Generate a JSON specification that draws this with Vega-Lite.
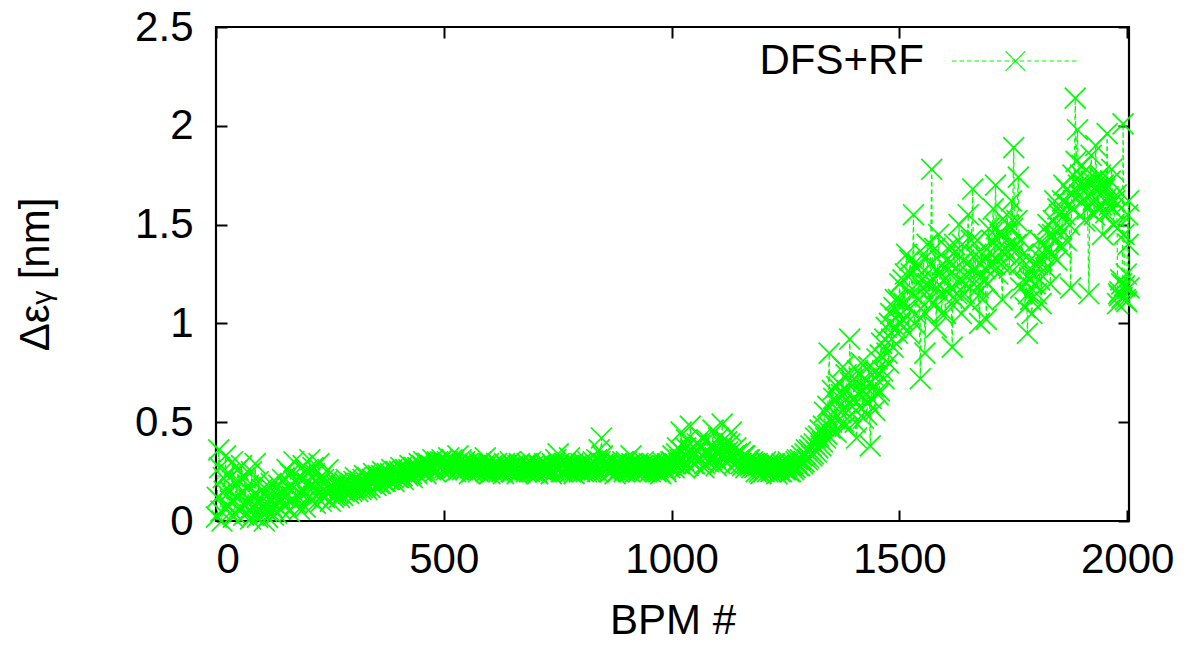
{
  "$schema": "https://vega.github.io/schema/vega-lite/v6.json",
  "autosize": {"type": "none"},
  "padding": {"left": 216, "top": 27, "right": 66, "bottom": 128},
  "width": 913,
  "height": 494,
  "background": "white",
  "config": {
    "view": {"stroke": "black", "strokeWidth": 2.2},
    "axis": {"domain": false, "grid": false, "ticks": true, "zindex": 2, "tickColor": "#000000", "tickOpacity": 1, "tickWidth": 2, "tickSize": 11, "offset": -11, "labelFont": "Liberation Sans", "labelFontSize": 42, "labelColor": "black", "titleFont": "Liberation Sans", "titleFontSize": 42, "titleFontWeight": "normal", "titleColor": "black"}
  },
  "data": {"values": [
    {"b":1,"e":0.02},{"b":6,"e":0.36},{"b":11,"e":0.05},{"b":16,"e":0.22},{"b":21,"e":0.33},{"b":26,"e":0.08},{"b":31,"e":0.15},{"b":36,"e":0.30},{"b":41,"e":0.04},{"b":46,"e":0.12},
    {"b":51,"e":0.20},{"b":56,"e":0.28},{"b":61,"e":0.03},{"b":66,"e":0.10},{"b":71,"e":0.18},{"b":76,"e":0.01},{"b":81,"e":0.07},{"b":86,"e":0.29},{"b":91,"e":0.02},{"b":96,"e":0.09},
    {"b":101,"e":0.16},{"b":106,"e":0.00},{"b":111,"e":0.05},{"b":116,"e":0.11},{"b":121,"e":0.19},{"b":126,"e":0.03},{"b":131,"e":0.08},{"b":136,"e":0.13},{"b":141,"e":0.06},{"b":146,"e":0.21},
    {"b":151,"e":0.12},{"b":156,"e":0.26},{"b":161,"e":0.05},{"b":166,"e":0.18},{"b":171,"e":0.30},{"b":176,"e":0.09},{"b":181,"e":0.22},{"b":186,"e":0.14},{"b":191,"e":0.28},{"b":196,"e":0.07},
    {"b":201,"e":0.19},{"b":206,"e":0.31},{"b":211,"e":0.11},{"b":216,"e":0.24},{"b":221,"e":0.16},{"b":226,"e":0.29},{"b":231,"e":0.10},{"b":236,"e":0.21},{"b":241,"e":0.15},{"b":246,"e":0.26},
    {"b":251,"e":0.10},{"b":256,"e":0.17},{"b":261,"e":0.13},{"b":266,"e":0.19},{"b":271,"e":0.12},{"b":276,"e":0.18},{"b":281,"e":0.15},{"b":286,"e":0.21},{"b":291,"e":0.14},{"b":296,"e":0.19},
    {"b":301,"e":0.16},{"b":306,"e":0.22},{"b":311,"e":0.15},{"b":316,"e":0.20},{"b":321,"e":0.17},{"b":326,"e":0.23},{"b":331,"e":0.16},{"b":336,"e":0.21},{"b":341,"e":0.19},{"b":346,"e":0.24},
    {"b":351,"e":0.18},{"b":356,"e":0.23},{"b":361,"e":0.19},{"b":366,"e":0.25},{"b":371,"e":0.20},{"b":376,"e":0.24},{"b":381,"e":0.21},{"b":386,"e":0.26},{"b":391,"e":0.20},{"b":396,"e":0.25},
    {"b":401,"e":0.22},{"b":406,"e":0.27},{"b":411,"e":0.21},{"b":416,"e":0.26},{"b":421,"e":0.23},{"b":426,"e":0.28},{"b":431,"e":0.22},{"b":436,"e":0.27},{"b":441,"e":0.24},{"b":446,"e":0.29},
    {"b":451,"e":0.25},{"b":456,"e":0.30},{"b":461,"e":0.24},{"b":466,"e":0.29},{"b":471,"e":0.26},{"b":476,"e":0.31},{"b":481,"e":0.25},{"b":486,"e":0.30},{"b":491,"e":0.27},{"b":496,"e":0.31},
    {"b":501,"e":0.29},{"b":506,"e":0.26},{"b":511,"e":0.32},{"b":516,"e":0.27},{"b":521,"e":0.30},{"b":526,"e":0.25},{"b":531,"e":0.33},{"b":536,"e":0.28},{"b":541,"e":0.26},{"b":546,"e":0.30},
    {"b":551,"e":0.27},{"b":556,"e":0.24},{"b":561,"e":0.29},{"b":566,"e":0.26},{"b":571,"e":0.28},{"b":576,"e":0.25},{"b":581,"e":0.30},{"b":586,"e":0.27},{"b":591,"e":0.32},{"b":596,"e":0.26},
    {"b":601,"e":0.24},{"b":606,"e":0.28},{"b":611,"e":0.26},{"b":616,"e":0.29},{"b":621,"e":0.25},{"b":626,"e":0.27},{"b":631,"e":0.24},{"b":636,"e":0.28},{"b":641,"e":0.26},{"b":646,"e":0.30},
    {"b":651,"e":0.25},{"b":656,"e":0.27},{"b":661,"e":0.24},{"b":666,"e":0.29},{"b":671,"e":0.26},{"b":676,"e":0.28},{"b":681,"e":0.25},{"b":686,"e":0.27},{"b":691,"e":0.30},{"b":696,"e":0.25},
    {"b":701,"e":0.27},{"b":706,"e":0.24},{"b":711,"e":0.28},{"b":716,"e":0.26},{"b":721,"e":0.29},{"b":726,"e":0.25},{"b":731,"e":0.27},{"b":736,"e":0.24},{"b":741,"e":0.28},{"b":746,"e":0.31},
    {"b":751,"e":0.34},{"b":756,"e":0.27},{"b":761,"e":0.25},{"b":766,"e":0.29},{"b":771,"e":0.26},{"b":776,"e":0.32},{"b":781,"e":0.27},{"b":786,"e":0.24},{"b":791,"e":0.28},{"b":796,"e":0.26},
    {"b":801,"e":0.29},{"b":806,"e":0.25},{"b":811,"e":0.27},{"b":816,"e":0.30},{"b":821,"e":0.25},{"b":826,"e":0.28},{"b":831,"e":0.26},{"b":836,"e":0.31},{"b":841,"e":0.36},{"b":846,"e":0.42},
    {"b":851,"e":0.29},{"b":856,"e":0.26},{"b":861,"e":0.28},{"b":866,"e":0.25},{"b":871,"e":0.27},{"b":876,"e":0.24},{"b":881,"e":0.29},{"b":886,"e":0.26},{"b":891,"e":0.28},{"b":896,"e":0.25},
    {"b":901,"e":0.30},{"b":906,"e":0.27},{"b":911,"e":0.33},{"b":916,"e":0.28},{"b":921,"e":0.25},{"b":926,"e":0.29},{"b":931,"e":0.26},{"b":936,"e":0.28},{"b":941,"e":0.25},{"b":946,"e":0.27},
    {"b":951,"e":0.29},{"b":956,"e":0.26},{"b":961,"e":0.28},{"b":966,"e":0.25},{"b":971,"e":0.27},{"b":976,"e":0.24},{"b":981,"e":0.28},{"b":986,"e":0.26},{"b":991,"e":0.29},{"b":996,"e":0.27},
    {"b":1001,"e":0.30},{"b":1006,"e":0.27},{"b":1011,"e":0.34},{"b":1016,"e":0.29},{"b":1021,"e":0.45},{"b":1026,"e":0.31},{"b":1031,"e":0.37},{"b":1036,"e":0.28},{"b":1041,"e":0.48},{"b":1046,"e":0.33},
    {"b":1051,"e":0.29},{"b":1056,"e":0.39},{"b":1061,"e":0.31},{"b":1066,"e":0.42},{"b":1071,"e":0.27},{"b":1076,"e":0.35},{"b":1081,"e":0.30},{"b":1086,"e":0.38},{"b":1091,"e":0.46},{"b":1096,"e":0.32},
    {"b":1101,"e":0.36},{"b":1106,"e":0.29},{"b":1111,"e":0.49},{"b":1116,"e":0.34},{"b":1121,"e":0.40},{"b":1126,"e":0.31},{"b":1131,"e":0.45},{"b":1136,"e":0.33},{"b":1141,"e":0.37},{"b":1146,"e":0.30},
    {"b":1151,"e":0.35},{"b":1156,"e":0.28},{"b":1161,"e":0.33},{"b":1166,"e":0.29},{"b":1171,"e":0.31},{"b":1176,"e":0.27},
    {"b":1181,"e":0.29},{"b":1186,"e":0.25},{"b":1191,"e":0.28},{"b":1196,"e":0.24},{"b":1201,"e":0.27},{"b":1206,"e":0.30},{"b":1211,"e":0.25},{"b":1216,"e":0.28},{"b":1221,"e":0.26},{"b":1226,"e":0.29},
    {"b":1231,"e":0.24},{"b":1236,"e":0.27},{"b":1241,"e":0.25},{"b":1246,"e":0.28},{"b":1251,"e":0.26},{"b":1256,"e":0.30},{"b":1261,"e":0.25},{"b":1266,"e":0.29},{"b":1271,"e":0.27},{"b":1276,"e":0.31},
    {"b":1281,"e":0.28},{"b":1286,"e":0.33},{"b":1291,"e":0.30},{"b":1296,"e":0.36},{"b":1301,"e":0.32},{"b":1306,"e":0.38},{"b":1311,"e":0.34},{"b":1316,"e":0.42},{"b":1321,"e":0.37},{"b":1326,"e":0.46},
    {"b":1331,"e":0.40},{"b":1336,"e":0.55},{"b":1341,"e":0.44},{"b":1346,"e":0.85},{"b":1351,"e":0.50},
    {"b":1356,"e":0.62},{"b":1361,"e":0.45},{"b":1366,"e":0.70},{"b":1371,"e":0.55},{"b":1376,"e":0.78},{"b":1381,"e":0.48},{"b":1386,"e":0.66},{"b":1391,"e":0.92},{"b":1396,"e":0.58},{"b":1401,"e":0.72},
    {"b":1406,"e":0.42},{"b":1411,"e":0.64},{"b":1416,"e":0.80},{"b":1421,"e":0.52},{"b":1426,"e":0.68},{"b":1431,"e":0.60},{"b":1436,"e":0.38},{"b":1441,"e":0.74},{"b":1446,"e":0.56},{"b":1451,"e":0.82},
    {"b":1456,"e":0.66},{"b":1461,"e":0.90},{"b":1466,"e":0.72},{"b":1471,"e":0.98},{"b":1476,"e":0.80},{"b":1481,"e":1.05},{"b":1486,"e":0.88},{"b":1491,"e":1.12},{"b":1496,"e":0.95},{"b":1501,"e":1.20},
    {"b":1506,"e":1.02},{"b":1511,"e":1.10},{"b":1516,"e":1.35},{"b":1521,"e":0.95},{"b":1526,"e":1.25},{"b":1531,"e":1.55},{"b":1536,"e":1.05},{"b":1541,"e":1.30},{"b":1546,"e":0.72},{"b":1551,"e":1.18},
    {"b":1556,"e":0.85},{"b":1561,"e":1.40},{"b":1566,"e":1.12},{"b":1571,"e":1.78},{"b":1576,"e":1.22},{"b":1581,"e":0.98},{"b":1586,"e":1.45},{"b":1591,"e":1.15},{"b":1596,"e":1.30},{"b":1601,"e":1.05},
    {"b":1606,"e":1.38},{"b":1611,"e":1.25},{"b":1616,"e":0.88},{"b":1621,"e":1.40},{"b":1626,"e":1.15},{"b":1631,"e":1.50},{"b":1636,"e":1.05},{"b":1641,"e":1.32},{"b":1646,"e":1.20},{"b":1651,"e":1.55},
    {"b":1656,"e":1.10},{"b":1661,"e":1.68},{"b":1666,"e":1.28},{"b":1671,"e":1.42},{"b":1676,"e":1.00},{"b":1681,"e":1.35},{"b":1686,"e":1.22},{"b":1691,"e":1.02},{"b":1696,"e":1.48},{"b":1701,"e":1.30},
    {"b":1706,"e":1.58},{"b":1711,"e":1.70},{"b":1716,"e":1.25},{"b":1721,"e":1.45},{"b":1726,"e":1.12},{"b":1731,"e":1.38},{"b":1736,"e":1.55},{"b":1741,"e":1.28},{"b":1746,"e":1.62},{"b":1751,"e":1.89},
    {"b":1756,"e":1.40},{"b":1761,"e":1.74},{"b":1766,"e":1.18},{"b":1771,"e":1.35},{"b":1776,"e":1.08},{"b":1781,"e":0.95},{"b":1786,"e":1.22},{"b":1791,"e":1.05},{"b":1796,"e":1.30},{"b":1801,"e":1.15},
    {"b":1806,"e":1.42},{"b":1811,"e":1.10},{"b":1816,"e":1.35},{"b":1821,"e":1.28},{"b":1826,"e":1.50},{"b":1831,"e":1.20},{"b":1836,"e":1.45},{"b":1841,"e":1.62},{"b":1846,"e":1.32},{"b":1851,"e":1.55},
    {"b":1856,"e":1.38},{"b":1861,"e":1.70},{"b":1866,"e":1.42},{"b":1871,"e":1.60},{"b":1876,"e":1.18},{"b":1881,"e":1.75},{"b":1886,"e":2.14},{"b":1891,"e":1.98},{"b":1896,"e":1.65},{"b":1901,"e":1.80},
    {"b":1906,"e":1.52},{"b":1911,"e":1.72},{"b":1916,"e":1.15},{"b":1921,"e":1.85},{"b":1926,"e":1.62},{"b":1931,"e":1.90},{"b":1936,"e":1.58},{"b":1941,"e":1.75},{"b":1946,"e":1.45},{"b":1951,"e":1.68},
    {"b":1956,"e":1.96},{"b":1961,"e":1.60},{"b":1966,"e":1.78},{"b":1971,"e":1.50},{"b":1976,"e":1.65},{"b":1979,"e":1.10},{"b":1981,"e":1.15},{"b":1984,"e":1.16},{"b":1986,"e":1.22},{"b":1989,"e":1.13},
    {"b":1991,"e":2.01},{"b":1994,"e":1.19},{"b":1996,"e":1.12},{"b":1999,"e":1.11},{"b":2001,"e":1.55},{"b":2002,"e":1.40},{"b":2004,"e":1.18},
    {"b":3,"e":0.12},{"b":8,"e":0.27},{"b":13,"e":0.00},{"b":18,"e":0.15},{"b":23,"e":0.06},{"b":28,"e":0.24},{"b":33,"e":0.10},{"b":38,"e":0.02},{"b":43,"e":0.19},{"b":48,"e":0.26},
    {"b":53,"e":0.07},{"b":58,"e":0.14},{"b":63,"e":0.22},{"b":68,"e":0.04},{"b":73,"e":0.11},{"b":78,"e":0.25},{"b":83,"e":0.03},{"b":88,"e":0.13},{"b":93,"e":0.20},{"b":98,"e":0.05},
    {"b":103,"e":0.08},{"b":108,"e":0.14},{"b":113,"e":0.02},{"b":118,"e":0.17},{"b":123,"e":0.07},{"b":128,"e":0.12},{"b":133,"e":0.04},{"b":138,"e":0.18},{"b":143,"e":0.10},{"b":148,"e":0.14},
    {"b":153,"e":0.08},{"b":158,"e":0.17},{"b":163,"e":0.24},{"b":168,"e":0.11},{"b":173,"e":0.20},{"b":178,"e":0.13},{"b":183,"e":0.06},{"b":188,"e":0.21},{"b":193,"e":0.15},{"b":198,"e":0.25},
    {"b":203,"e":0.12},{"b":208,"e":0.18},{"b":213,"e":0.27},{"b":218,"e":0.09},{"b":223,"e":0.19},{"b":228,"e":0.14},{"b":233,"e":0.23},{"b":238,"e":0.12},{"b":243,"e":0.20},{"b":248,"e":0.17},
    {"b":253,"e":0.15},{"b":258,"e":0.12},{"b":263,"e":0.18},{"b":268,"e":0.14},{"b":273,"e":0.17},{"b":278,"e":0.13},{"b":283,"e":0.19},{"b":288,"e":0.16},{"b":293,"e":0.18},{"b":298,"e":0.15},
    {"b":303,"e":0.20},{"b":308,"e":0.17},{"b":313,"e":0.19},{"b":318,"e":0.16},{"b":323,"e":0.21},{"b":328,"e":0.18},{"b":333,"e":0.22},{"b":338,"e":0.17},{"b":343,"e":0.21},{"b":348,"e":0.20},
    {"b":353,"e":0.22},{"b":358,"e":0.19},{"b":363,"e":0.23},{"b":368,"e":0.20},{"b":373,"e":0.22},{"b":378,"e":0.21},{"b":383,"e":0.24},{"b":388,"e":0.22},{"b":393,"e":0.25},{"b":398,"e":0.22},
    {"b":403,"e":0.25},{"b":408,"e":0.23},{"b":413,"e":0.25},{"b":418,"e":0.24},{"b":423,"e":0.26},{"b":428,"e":0.24},{"b":433,"e":0.27},{"b":438,"e":0.25},{"b":443,"e":0.27},{"b":448,"e":0.26},
    {"b":453,"e":0.28},{"b":458,"e":0.26},{"b":463,"e":0.29},{"b":468,"e":0.27},{"b":473,"e":0.28},{"b":478,"e":0.27},{"b":483,"e":0.29},{"b":488,"e":0.28},{"b":493,"e":0.30},{"b":498,"e":0.28},
    {"b":503,"e":0.27},{"b":508,"e":0.30},{"b":513,"e":0.28},{"b":518,"e":0.31},{"b":523,"e":0.27},{"b":528,"e":0.29},{"b":533,"e":0.26},{"b":538,"e":0.31},{"b":543,"e":0.28},{"b":548,"e":0.26},
    {"b":553,"e":0.29},{"b":558,"e":0.27},{"b":563,"e":0.25},{"b":568,"e":0.28},{"b":573,"e":0.26},{"b":578,"e":0.29},{"b":583,"e":0.26},{"b":588,"e":0.28},{"b":593,"e":0.25},{"b":598,"e":0.29},
    {"b":603,"e":0.27},{"b":608,"e":0.25},{"b":613,"e":0.28},{"b":618,"e":0.26},{"b":623,"e":0.28},{"b":628,"e":0.25},{"b":633,"e":0.29},{"b":638,"e":0.26},{"b":643,"e":0.27},{"b":648,"e":0.25},
    {"b":653,"e":0.28},{"b":658,"e":0.26},{"b":663,"e":0.28},{"b":668,"e":0.25},{"b":673,"e":0.27},{"b":678,"e":0.26},{"b":683,"e":0.29},{"b":688,"e":0.25},{"b":693,"e":0.27},{"b":698,"e":0.28},
    {"b":703,"e":0.25},{"b":708,"e":0.28},{"b":713,"e":0.26},{"b":718,"e":0.27},{"b":723,"e":0.25},{"b":728,"e":0.28},{"b":733,"e":0.26},{"b":738,"e":0.29},{"b":743,"e":0.25},{"b":748,"e":0.27},
    {"b":753,"e":0.29},{"b":758,"e":0.25},{"b":763,"e":0.28},{"b":768,"e":0.26},{"b":773,"e":0.28},{"b":778,"e":0.25},{"b":783,"e":0.29},{"b":788,"e":0.26},{"b":793,"e":0.27},{"b":798,"e":0.25},
    {"b":803,"e":0.27},{"b":808,"e":0.29},{"b":813,"e":0.25},{"b":818,"e":0.28},{"b":823,"e":0.26},{"b":828,"e":0.30},{"b":833,"e":0.27},{"b":838,"e":0.25},{"b":843,"e":0.30},{"b":848,"e":0.33},
    {"b":853,"e":0.27},{"b":858,"e":0.29},{"b":863,"e":0.25},{"b":868,"e":0.28},{"b":873,"e":0.26},{"b":878,"e":0.29},{"b":883,"e":0.25},{"b":888,"e":0.27},{"b":893,"e":0.30},{"b":898,"e":0.26},
    {"b":903,"e":0.28},{"b":908,"e":0.25},{"b":913,"e":0.29},{"b":918,"e":0.26},{"b":923,"e":0.28},{"b":928,"e":0.25},{"b":933,"e":0.27},{"b":938,"e":0.30},{"b":943,"e":0.26},{"b":948,"e":0.28},
    {"b":953,"e":0.25},{"b":958,"e":0.29},{"b":963,"e":0.26},{"b":968,"e":0.28},{"b":973,"e":0.25},{"b":978,"e":0.27},{"b":983,"e":0.29},{"b":988,"e":0.25},{"b":993,"e":0.28},{"b":998,"e":0.30},
    {"b":1003,"e":0.33},{"b":1008,"e":0.29},{"b":1013,"e":0.37},{"b":1018,"e":0.31},{"b":1023,"e":0.35},{"b":1028,"e":0.27},{"b":1033,"e":0.41},{"b":1038,"e":0.32},{"b":1043,"e":0.36},{"b":1048,"e":0.29},
    {"b":1053,"e":0.34},{"b":1058,"e":0.30},{"b":1063,"e":0.38},{"b":1068,"e":0.33},{"b":1073,"e":0.29},{"b":1078,"e":0.41},{"b":1083,"e":0.34},{"b":1088,"e":0.31},{"b":1093,"e":0.37},{"b":1098,"e":0.28},
    {"b":1103,"e":0.42},{"b":1108,"e":0.33},{"b":1113,"e":0.38},{"b":1118,"e":0.30},{"b":1123,"e":0.35},{"b":1128,"e":0.39},{"b":1133,"e":0.32},{"b":1138,"e":0.29},{"b":1143,"e":0.34},{"b":1148,"e":0.31},
    {"b":1153,"e":0.29},{"b":1158,"e":0.33},{"b":1163,"e":0.27},{"b":1168,"e":0.31},{"b":1173,"e":0.28},{"b":1178,"e":0.30},
    {"b":1183,"e":0.27},{"b":1188,"e":0.29},{"b":1193,"e":0.25},{"b":1198,"e":0.28},{"b":1203,"e":0.25},{"b":1208,"e":0.27},{"b":1213,"e":0.29},{"b":1218,"e":0.25},{"b":1223,"e":0.28},{"b":1228,"e":0.26},
    {"b":1233,"e":0.28},{"b":1238,"e":0.25},{"b":1243,"e":0.29},{"b":1248,"e":0.26},{"b":1253,"e":0.28},{"b":1258,"e":0.25},{"b":1263,"e":0.28},{"b":1268,"e":0.26},{"b":1273,"e":0.30},{"b":1278,"e":0.28},
    {"b":1283,"e":0.31},{"b":1288,"e":0.29},{"b":1293,"e":0.34},{"b":1298,"e":0.31},{"b":1303,"e":0.36},{"b":1308,"e":0.33},{"b":1313,"e":0.39},{"b":1318,"e":0.35},{"b":1323,"e":0.43},{"b":1328,"e":0.38},
    {"b":1333,"e":0.48},{"b":1338,"e":0.42},{"b":1343,"e":0.58},{"b":1348,"e":0.47},{"b":1353,"e":0.66},
    {"b":1358,"e":0.52},{"b":1363,"e":0.68},{"b":1368,"e":0.58},{"b":1373,"e":0.64},{"b":1378,"e":0.50},{"b":1383,"e":0.74},{"b":1388,"e":0.56},{"b":1393,"e":0.70},{"b":1398,"e":0.62},{"b":1403,"e":0.50},
    {"b":1408,"e":0.76},{"b":1413,"e":0.58},{"b":1418,"e":0.66},{"b":1423,"e":0.72},{"b":1428,"e":0.54},{"b":1433,"e":0.78},{"b":1438,"e":0.62},{"b":1443,"e":0.68},{"b":1448,"e":0.76},{"b":1453,"e":0.64},
    {"b":1458,"e":0.84},{"b":1463,"e":0.76},{"b":1468,"e":0.92},{"b":1473,"e":0.85},{"b":1478,"e":1.00},{"b":1483,"e":0.92},{"b":1488,"e":1.08},{"b":1493,"e":0.98},{"b":1498,"e":1.12},{"b":1503,"e":1.00},{"b":1508,"e":1.22},
    {"b":1513,"e":1.25},{"b":1518,"e":1.08},{"b":1523,"e":1.32},{"b":1528,"e":1.15},{"b":1533,"e":1.00},{"b":1538,"e":1.28},{"b":1543,"e":1.12},{"b":1548,"e":1.22},{"b":1553,"e":1.35},{"b":1558,"e":1.05},
    {"b":1563,"e":1.20},{"b":1568,"e":1.30},{"b":1573,"e":1.10},{"b":1578,"e":1.38},{"b":1583,"e":1.18},{"b":1588,"e":1.26},{"b":1593,"e":1.05},{"b":1598,"e":1.22},{"b":1603,"e":1.32},{"b":1608,"e":1.15},
    {"b":1613,"e":1.18},{"b":1618,"e":1.30},{"b":1623,"e":1.12},{"b":1628,"e":1.35},{"b":1633,"e":1.22},{"b":1638,"e":1.40},{"b":1643,"e":1.15},{"b":1648,"e":1.30},{"b":1653,"e":1.25},{"b":1658,"e":1.42},
    {"b":1663,"e":1.20},{"b":1668,"e":1.35},{"b":1673,"e":1.18},{"b":1678,"e":1.30},{"b":1683,"e":1.12},{"b":1688,"e":1.28},{"b":1693,"e":1.20},{"b":1698,"e":1.36},{"b":1703,"e":1.42},{"b":1708,"e":1.30},
    {"b":1713,"e":1.48},{"b":1718,"e":1.38},{"b":1723,"e":1.30},{"b":1728,"e":1.45},{"b":1733,"e":1.35},{"b":1738,"e":1.50},{"b":1743,"e":1.40},{"b":1748,"e":1.48},{"b":1753,"e":1.36},{"b":1758,"e":1.52},
    {"b":1763,"e":1.30},{"b":1768,"e":1.42},{"b":1773,"e":1.22},{"b":1778,"e":1.30},{"b":1783,"e":1.15},
    {"b":1788,"e":1.12},{"b":1793,"e":1.25},{"b":1798,"e":1.20},{"b":1803,"e":1.30},{"b":1808,"e":1.22},{"b":1813,"e":1.32},{"b":1818,"e":1.40},
    {"b":1823,"e":1.38},{"b":1828,"e":1.45},{"b":1833,"e":1.35},{"b":1838,"e":1.52},{"b":1843,"e":1.42},{"b":1848,"e":1.58},{"b":1853,"e":1.48},{"b":1858,"e":1.62},{"b":1863,"e":1.55},{"b":1868,"e":1.68},
    {"b":1873,"e":1.50},{"b":1878,"e":1.65},{"b":1883,"e":1.58},{"b":1888,"e":1.82},{"b":1893,"e":1.70},{"b":1898,"e":1.75},{"b":1903,"e":1.62},{"b":1908,"e":1.70},{"b":1913,"e":1.58},{"b":1918,"e":1.66},
    {"b":1923,"e":1.72},{"b":1928,"e":1.55},{"b":1933,"e":1.68},{"b":1938,"e":1.74},{"b":1943,"e":1.60},{"b":1948,"e":1.70},{"b":1953,"e":1.56},{"b":1958,"e":1.64},{"b":1963,"e":1.72},{"b":1968,"e":1.58},
    {"b":1973,"e":1.62},{"b":1978,"e":1.48},{"b":1983,"e":1.14},{"b":1988,"e":1.20},{"b":1993,"e":1.45},{"b":1998,"e":1.25},{"b":2003,"e":1.62}
  ]},
  "encoding": {
    "x": {"field": "b", "type": "quantitative", "scale": {"domain": [0, 2004], "nice": false, "zero": false}},
    "y": {"field": "e", "type": "quantitative", "scale": {"domain": [0, 2.5], "nice": false}}
  },
  "layer": [
    {
      "mark": {"type": "line", "strokeWidth": 1.2, "strokeDash": [4.5, 3]},
      "encoding": {
        "x": {"field": "b", "type": "quantitative", "axis": {"values": [0, 500, 1000, 1500, 2000], "format": "d", "labelPadding": 18, "title": "BPM #", "titlePadding": 20}},
        "y": {"field": "e", "type": "quantitative", "axis": {"values": [0, 0.5, 1, 1.5, 2, 2.5], "format": "~g", "labelPadding": 23, "title": "Δεᵧ [nm]", "titlePadding": 77}},
        "color": {"datum": "DFS+RF", "type": "nominal", "scale": {"range": ["#00ff00"]}, "legend": {"orient": "none", "legendX": 735, "legendY": -30.5, "title": null, "padding": 0, "symbolType": "M-1,0H1M0,0L0.053,0.053M0.053,0.053L0.105,0.105M0.105,0.105L0.158,0.158M0,0L-0.053,-0.053M-0.053,-0.053L-0.105,-0.105M-0.105,-0.105L-0.158,-0.158M0,0L0.053,-0.053M0.053,-0.053L0.105,-0.105M0.105,-0.105L0.158,-0.158M0,0L-0.053,0.053M-0.053,0.053L-0.105,0.105M-0.105,0.105L-0.158,0.158", "symbolSize": 16129, "symbolStrokeWidth": 1.2, "symbolDash": [4.5, 3], "symbolFillColor": "transparent", "symbolStrokeColor": "#00ff00", "labelFont": "Liberation Sans", "labelFontSize": 42, "labelColor": "black", "labelAlign": "right", "labelOffset": -156, "labelLimit": 0}}
      }
    },
    {
      "mark": {"type": "point", "shape": "M-1,-1L1,1M-1,1L1,-1", "filled": false, "size": 440, "strokeWidth": 1.7, "opacity": 1},
      "encoding": {
        "x": {"field": "b", "type": "quantitative", "axis": {"orient": "top", "values": [0, 500, 1000, 1500, 2000], "labels": false, "title": null}},
        "y": {"field": "e", "type": "quantitative", "axis": {"orient": "right", "values": [0, 0.5, 1, 1.5, 2, 2.5], "labels": false, "title": null}},
        "color": {"datum": "DFS+RF", "type": "nominal"}
      }
    }
  ],
  "resolve": {"axis": {"x": "independent", "y": "independent"}}
}
